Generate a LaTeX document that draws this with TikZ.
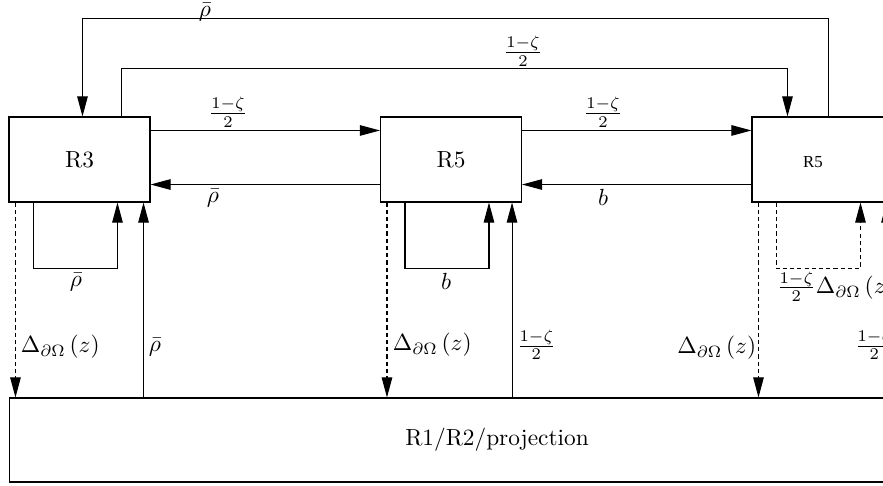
\documentclass[tikz,border=0pt]{standalone}
\usepackage{fontspec}
\newfontfamily\smallserif{Liberation Serif}
\usetikzlibrary{arrows.meta,calc}
\begin{document}
\begin{tikzpicture}[x=0.4286pt,y=-0.4286pt,
  line width=0.45pt,
  box/.style={draw, rectangle, inner sep=0pt, minimum width=60.43pt, minimum height=36.43pt},
  arr/.style={-{Triangle[length=8.6pt,width=4.5pt]}},
  dsh/.style={dash pattern=on 1.8pt off 1.3pt},
  lab/.style={inner sep=1pt}]
\useasboundingbox (0,0) rectangle (883,486);
\clip (0,0) rectangle (883,486);
% boxes
\node[box] (R3) at (79.5,159.5) {R3};
\node[box] (R5m) at (451,159.5) {R5};
\node[box] (R5r) at (822.5,159.5) {};
\node[lab] (R5rtext) at (813,162) {\smallserif\fontsize{7.2}{8}\selectfont R5};
\node[draw, rectangle, inner sep=0pt, minimum width=417.5pt, minimum height=36pt] (B) at (497,440) {R1/R2/projection};
% long top connectors
\draw[arr] ($(R5r.north west)+(77,0)$) -- ++(0,-98) -| ($(R3.north west)+(74,0)$);
\node[lab, anchor=base] (l1) at (205,16.5) {$\bar\rho$};
\draw[arr] ($(R3.north west)+(113,0)$) -- ++(0,-48) -| ($(R5r.north west)+(36,0)$);
\node[lab, anchor=south] (l2) at (523,69) {$\frac{1-\zeta}{2}$};
% horizontal connectors
\draw[arr] ($(R3.north east)+(0,14)$) -- ($(R5m.north west)+(0,14)$);
\node[lab, anchor=south] (l3) at (228,130) {$\frac{1-\zeta}{2}$};
\draw[arr] ($(R5m.south west)+(0,-18)$) -- ($(R3.south east)+(0,-18)$);
\node[lab, anchor=north] (l4) at (213,186) {$\bar\rho$};
\draw[arr] ($(R5m.north east)+(0,14)$) -- ($(R5r.north west)+(0,14)$);
\node[lab, anchor=south] (l5) at (603,130) {$\frac{1-\zeta}{2}$};
\draw[arr] ($(R5r.south west)+(0,-18)$) -- ($(R5m.south east)+(0,-18)$);
\node[lab, anchor=north] (l6) at (603,186) {$b$};
% self loops
\draw[arr] ($(R3.south west)+(25,0)$) -- ++(0,66) -| ($(R3.south west)+(109,0)$);
\node[lab, anchor=north] (l7) at (76,270) {$\bar\rho$};
\draw[arr] ($(R5m.south west)+(25,0)$) -- ++(0,66) -| ($(R5m.south west)+(109,0)$);
\node[lab, anchor=north] (l8) at (446,270) {$b$};
\draw[arr,dsh] ($(R5r.south west)+(25,0)$) -- ++(0,66) -| ($(R5r.south west)+(109,0)$);
\node[lab, anchor=north west] (l9) at (774,269) {$\frac{1-\zeta}{2}\Delta_{\partial\Omega}\left(z\right)$};
% vertical connectors to/from bottom box
\coordinate (d1) at ($(R3.south west)+(7,0)$);
\coordinate (d2) at ($(R5m.south west)+(7,0)$);
\coordinate (d3) at ($(R5r.south west)+(7,0)$);
\draw[arr,dsh] (d1) -- (d1 |- B.north);
\draw[arr,dsh] (d2) -- (d2 |- B.north);
\draw[arr,dsh] (d3) -- (d3 |- B.north);
\coordinate (u1) at ($(R3.south east)+(-7,0)$);
\coordinate (u2) at ($(R5m.south east)+(-10,0)$);
\coordinate (u3) at ($(R5r.south east)+(-7,0)$);
\draw[arr] (u1 |- B.north) -- (u1);
\draw[arr] (u2 |- B.north) -- (u2);
\draw[arr] (u3 |- B.north) -- (u3);
\node[lab, anchor=west] (l10) at (18,347) {$\Delta_{\partial\Omega}\left(z\right)$};
\node[lab, anchor=west] (l11) at (146,347) {$\bar\rho$};
\node[lab, anchor=west] (l12) at (390,345) {$\Delta_{\partial\Omega}\left(z\right)$};
\node[lab, anchor=west] (l13) at (514,345) {$\frac{1-\zeta}{2}$};
\node[lab, anchor=east] (l14) at (759,348) {$\Delta_{\partial\Omega}\left(z\right)$};
\node[lab, anchor=west] (l15) at (852,345) {$\frac{1-\zeta}{2}$};
\end{tikzpicture}
\end{document}
